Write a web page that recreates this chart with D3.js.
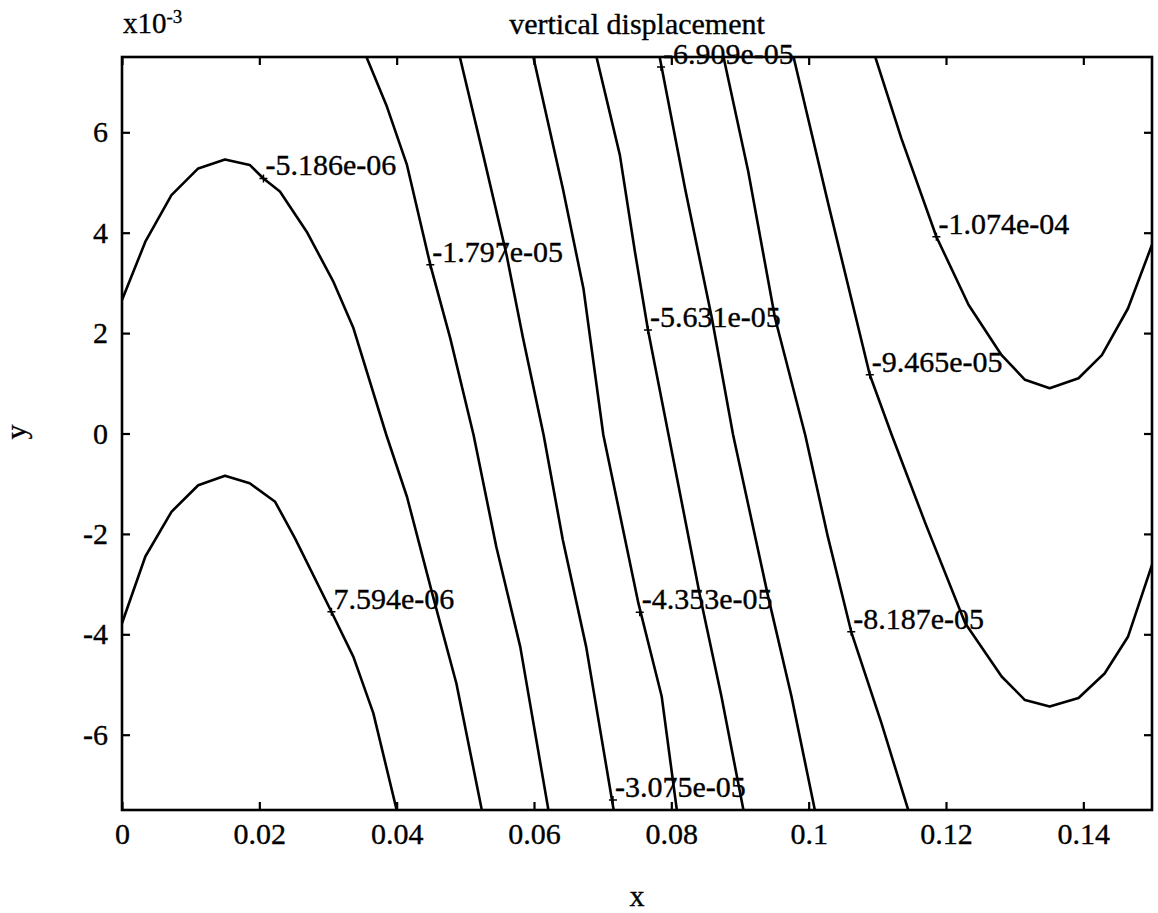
<!DOCTYPE html>
<html>
<head>
<meta charset="utf-8">
<script src="https://cdn.jsdelivr.net/npm/d3@7"></script>
<style>
  body { margin: 0; background: #fff; }
  text { font-family: "Liberation Serif", "Times New Roman", serif; fill: #000;
         stroke: #000; stroke-width: 0.35px; }
</style>
</head>
<body>
<div id="chart"></div>
<script>
// Axis ticks
const xTicks = [0, 0.02, 0.04, 0.06, 0.08, 0.1, 0.12, 0.14];
const xTickLabels = ["0", "0.02", "0.04", "0.06", "0.08", "0.1", "0.12", "0.14"];
const yTicks = [-6, -4, -2, 0, 2, 4, 6];
const yTickLabels = ["-6", "-4", "-2", "0", "2", "4", "6"];

// Contour levels and their label text
const levelLabels = ["7.594e-06", "-5.186e-06", "-1.797e-05", "-3.075e-05", "-4.353e-05",
                     "-5.631e-05", "-6.909e-05", "-8.187e-05", "-9.465e-05", "-1.074e-04"];

// Contour lines: [x, y (x1e-3)]
const c7594e06 = [[0, -3.78], [0.0034, -2.45], [0.0072, -1.56], [0.0111, -1.03], [0.0150, -0.84],
  [0.0186, -0.99], [0.0223, -1.36], [0.0252, -2.09], [0.0305, -3.55], [0.0337, -4.45],
  [0.0366, -5.57], [0.0400, -7.5]];
const c5186e06 = [[0, 2.66], [0.0034, 3.82], [0.0072, 4.75], [0.0111, 5.28], [0.0150, 5.46],
  [0.0186, 5.35], [0.0206, 5.08], [0.0230, 4.82], [0.0269, 4.02], [0.0308, 3.02], [0.0337, 2.10],
  [0.0385, -0.03], [0.0415, -1.26], [0.0453, -3.25], [0.0487, -4.98], [0.0524, -7.5]];
const c1797e05 = [[0.0356, 7.5], [0.0385, 6.54], [0.0415, 5.35], [0.0449, 3.36], [0.0478, 1.90],
  [0.0512, -0.03], [0.0545, -2.25], [0.0580, -4.25], [0.0621, -7.5]];
const c3075e05 = [[0.0492, 7.5], [0.0526, 5.55], [0.0560, 3.56], [0.0584, 1.90], [0.0614, -0.03],
  [0.0642, -2.12], [0.0676, -4.25], [0.0716, -7.5]];
const c4353e05 = [[0.0599, 7.5], [0.0642, 4.88], [0.0672, 2.89], [0.0701, -0.03], [0.0752, -3.38],
  [0.0786, -5.24], [0.0808, -7.5]];
const c5631e05 = [[0.0691, 7.5], [0.0725, 5.55], [0.0747, 3.62], [0.0766, 2.06], [0.0796, -0.03],
  [0.0842, -3.25], [0.0873, -5.24], [0.0905, -7.5]];
const c6909e05 = [[0.0783, 7.5], [0.0820, 4.88], [0.0859, 2.30], [0.0890, -0.03], [0.0941, -3.25],
  [0.0975, -5.24], [0.1009, -7.5]];
const c8187e05 = [[0.0876, 7.5], [0.0912, 5.22], [0.0951, 2.30], [0.0995, -0.03], [0.1028, -2.06],
  [0.1062, -3.95], [0.1106, -5.77], [0.1145, -7.5]];
const c9465e05 = [[0.0978, 7.5], [0.1029, 4.55], [0.1089, 1.17], [0.1121, -0.03], [0.1170, -1.79],
  [0.1228, -3.78], [0.1281, -4.84], [0.1315, -5.31], [0.1351, -5.44], [0.1393, -5.27],
  [0.1431, -4.78], [0.1465, -4.05], [0.1500, -2.62]];
const c1074e04 = [[0.1097, 7.5], [0.1135, 5.88], [0.1186, 3.92], [0.1233, 2.56], [0.1281, 1.56],
  [0.1315, 1.07], [0.1351, 0.90], [0.1393, 1.10], [0.1427, 1.56], [0.1465, 2.49], [0.1500, 3.76]];

// Where each level's label sits
const labelPoints = [[0.0305, -3.55], [0.0206, 5.08], [0.0449, 3.36], [0.0715, -7.3], [0.0754, -3.56],
  [0.0766, 2.06], [0.0785, 7.3], [0.1062, -3.95], [0.1089, 1.17], [0.1186, 3.92]];

const contours = [c7594e06, c5186e06, c1797e05, c3075e05, c4353e05,
                  c5631e05, c6909e05, c8187e05, c9465e05, c1074e04];

// Chart dimensions
const W = 1158, H = 913;
const margin = { top: 57, right: 6, bottom: 103, left: 122 };
const width = W - margin.left - margin.right;
const height = H - margin.top - margin.bottom;

const svg = d3.select("#chart").append("svg")
    .attr("width", W)
    .attr("height", H);

const g = svg.append("g")
    .attr("transform", `translate(${margin.left},${margin.top})`);

const x = d3.scaleLinear().domain([0, 0.15]).range([0, width]);
const y = d3.scaleLinear().domain([-7.5, 7.5]).range([height, 0]);

// Clip for the contour lines
g.append("clipPath").attr("id", "plot-clip")
  .append("rect").attr("width", width).attr("height", height);

// Axes with inward ticks
g.append("g")
    .attr("transform", `translate(0,${height})`)
    .call(d3.axisBottom(x).tickValues(xTicks)
        .tickFormat((d, i) => xTickLabels[i])
        .tickSizeInner(-8).tickSizeOuter(0).tickPadding(13));

g.append("g")
    .call(d3.axisLeft(y).tickValues(yTicks)
        .tickFormat((d, i) => yTickLabels[i])
        .tickSizeInner(-8).tickSizeOuter(0).tickPadding(14));

g.append("g")
    .call(d3.axisTop(x).tickValues(xTicks).tickFormat("").tickSizeInner(-8).tickSizeOuter(0));

g.append("g")
    .attr("transform", `translate(${width},0)`)
    .call(d3.axisRight(y).tickValues(yTicks).tickFormat("").tickSizeInner(-8).tickSizeOuter(0));

g.selectAll(".domain").remove();
g.selectAll(".tick line").attr("stroke", "#000").attr("stroke-width", 2.2);
g.selectAll(".tick text").style("font-size", "30px").attr("fill", "#000");

// Frame
g.append("rect")
    .attr("width", width)
    .attr("height", height)
    .attr("fill", "none")
    .attr("stroke", "#000")
    .attr("stroke-width", 2.6);

// Contour lines
const line = d3.line().x(d => x(d[0])).y(d => y(d[1]));

g.append("g")
    .attr("clip-path", "url(#plot-clip)")
    .selectAll("path")
    .data(contours)
    .enter()
    .append("path")
    .attr("d", line)
    .attr("fill", "none")
    .attr("stroke", "#000")
    .attr("stroke-width", 2.6)
    .attr("stroke-linejoin", "round");

// Contour labels: small "+" marker and the value
const labels = g.append("g")
    .selectAll("g")
    .data(labelPoints)
    .enter()
    .append("g")
    .attr("transform", d => `translate(${x(d[0])},${y(d[1])})`);

labels.append("path")
    .attr("d", "M-4,0H4M0,-4V4")
    .attr("stroke", "#000")
    .attr("stroke-width", 1.5);

labels.append("text")
    .attr("x", 2)
    .attr("y", -3)
    .style("font-size", "30px")
    .text((d, i) => levelLabels[i]);

// Title and axis labels
svg.append("text")
    .attr("x", margin.left + width / 2)
    .attr("y", 34)
    .attr("text-anchor", "middle")
    .style("font-size", "30px")
    .text("vertical displacement");

const mult = svg.append("text")
    .attr("x", 123)
    .attr("y", 33)
    .style("font-size", "29px");
mult.append("tspan").text("x10");
mult.append("tspan")
    .attr("dy", -10)
    .style("font-size", "19px")
    .text("-3");

svg.append("text")
    .attr("x", margin.left + width / 2)
    .attr("y", 906)
    .attr("text-anchor", "middle")
    .style("font-size", "30px")
    .text("x");

svg.append("text")
    .attr("transform", "translate(26,432) rotate(-90)")
    .attr("text-anchor", "middle")
    .style("font-size", "30px")
    .text("y");
</script>
</body>
</html>
